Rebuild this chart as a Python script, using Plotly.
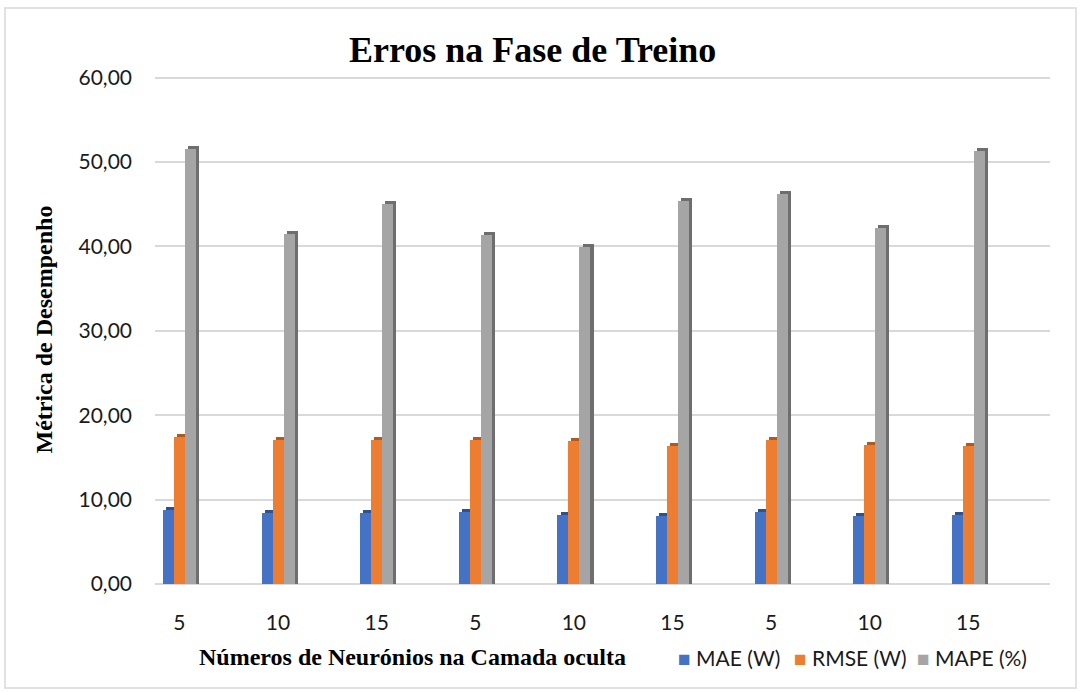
import plotly.graph_objects as go

# Training-phase error metrics per hidden-layer size
categories = ["5", "10", "15", "5", "10", "15", "5", "10", "15"]
mae = [8.8, 8.4, 8.4, 8.5, 8.2, 8.1, 8.5, 8.1, 8.2]
rmse = [17.4, 17.1, 17.1, 17.1, 16.9, 16.4, 17.1, 16.5, 16.4]
mape = [51.5, 41.5, 45.0, 41.4, 39.9, 45.4, 46.2, 42.2, 51.3]

series = [
    ("MAE (W)", mae, "#4472C4", "#2F528F"),
    ("RMSE (W)", rmse, "#ED7D31", "#AE5A21"),
    ("MAPE (%)", mape, "#A5A5A5", "#6E6E6E"),
]

W, H = 1081, 693
ML, MR, MT, MB = 155, 31, 75, 109
PW, PH = W - ML - MR, H - MT - MB


def px_x(p):
    return (p - ML) / PW


def px_y(p):
    return (H - MB - p) / PH


x = list(range(len(categories)))
bar_w = 0.112
offsets = [-0.167, -0.056, 0.056]
depth_x = 0.032
depth_y = 0.35

TICK_FONT = "Lato, Open Sans, sans-serif"
SERIF = "Liberation Serif, Times New Roman, serif"

fig = go.Figure()

# darker "depth" bars drawn first, peeking out at top/right for a 3D look
for (name, vals, col, dark), off in zip(series, offsets):
    fig.add_trace(go.Bar(
        x=x, y=[v + depth_y for v in vals], width=bar_w, offset=off + depth_x,
        marker=dict(color=dark, line=dict(width=0)),
        showlegend=False, hoverinfo="skip",
    ))

for (name, vals, col, dark), off in zip(series, offsets):
    fig.add_trace(go.Bar(
        x=x, y=vals, name=name, width=bar_w, offset=off,
        marker=dict(color=col, line=dict(width=0)),
        showlegend=False,
    ))

fig.update_layout(
    width=W, height=H,
    margin=dict(l=ML, r=MR, t=MT, b=MB, autoexpand=False),
    paper_bgcolor="white", plot_bgcolor="white",
    barmode="overlay",
    separators=",.",
    font=dict(family=TICK_FONT, size=21, color="#1a1a1a"),
    xaxis=dict(
        tickmode="array", tickvals=x, ticktext=categories,
        range=[-0.248, 8.829], showgrid=False, zeroline=False,
        showline=False, ticks="", tickfont=dict(size=21, color="#1a1a1a"),
        ticklabelstandoff=24,
    ),
    yaxis=dict(
        range=[0, 60.3], tickvals=[0, 10, 20, 30, 40, 50, 60], tickformat=".2f",
        showgrid=True, gridcolor="#D9D9D9", gridwidth=2,
        zeroline=True, zerolinecolor="#D9D9D9", zerolinewidth=2,
        showline=False, ticks="",
        tickfont=dict(size=21, color="#1a1a1a"), ticklabelstandoff=22,
    ),
    bargap=0,
)

# chart title
fig.add_annotation(
    text="<b>Erros na Fase de Treino</b>",
    xref="paper", yref="paper", x=px_x(532), y=px_y(50),
    xanchor="center", yanchor="middle", showarrow=False,
    font=dict(family=SERIF, size=36, color="black"),
)
# axis titles
fig.add_annotation(
    text="<b>Números de Neurónios na Camada oculta</b>",
    xref="paper", yref="paper", x=px_x(412), y=px_y(657),
    xanchor="center", yanchor="middle", showarrow=False,
    font=dict(family=SERIF, size=24, color="black"),
)
fig.add_annotation(
    text="<b>Métrica de Desempenho</b>",
    xref="paper", yref="paper", x=px_x(43), y=0.5,
    xanchor="center", yanchor="middle", showarrow=False, textangle=-90,
    font=dict(family=SERIF, size=24, color="black"),
)

# legend entries along the bottom edge
legend_left = [676, 792, 915]
for (name, vals, col, dark), lx in zip(series, legend_left):
    fig.add_annotation(
        text=f'<span style="color:{col}">■</span> {name}',
        xref="paper", yref="paper", x=px_x(lx), y=px_y(657),
        xanchor="left", yanchor="middle", showarrow=False,
        font=dict(family=TICK_FONT, size=21, color="#1a1a1a"),
    )

# thin frame around the whole chart
fig.add_shape(
    type="rect", xref="paper", yref="paper",
    x0=px_x(5), x1=px_x(1076), y0=px_y(688), y1=px_y(8),
    line=dict(color="#D9D9D9", width=1.5), fillcolor="rgba(0,0,0,0)", layer="below",
)

fig.write_html("out.html")
